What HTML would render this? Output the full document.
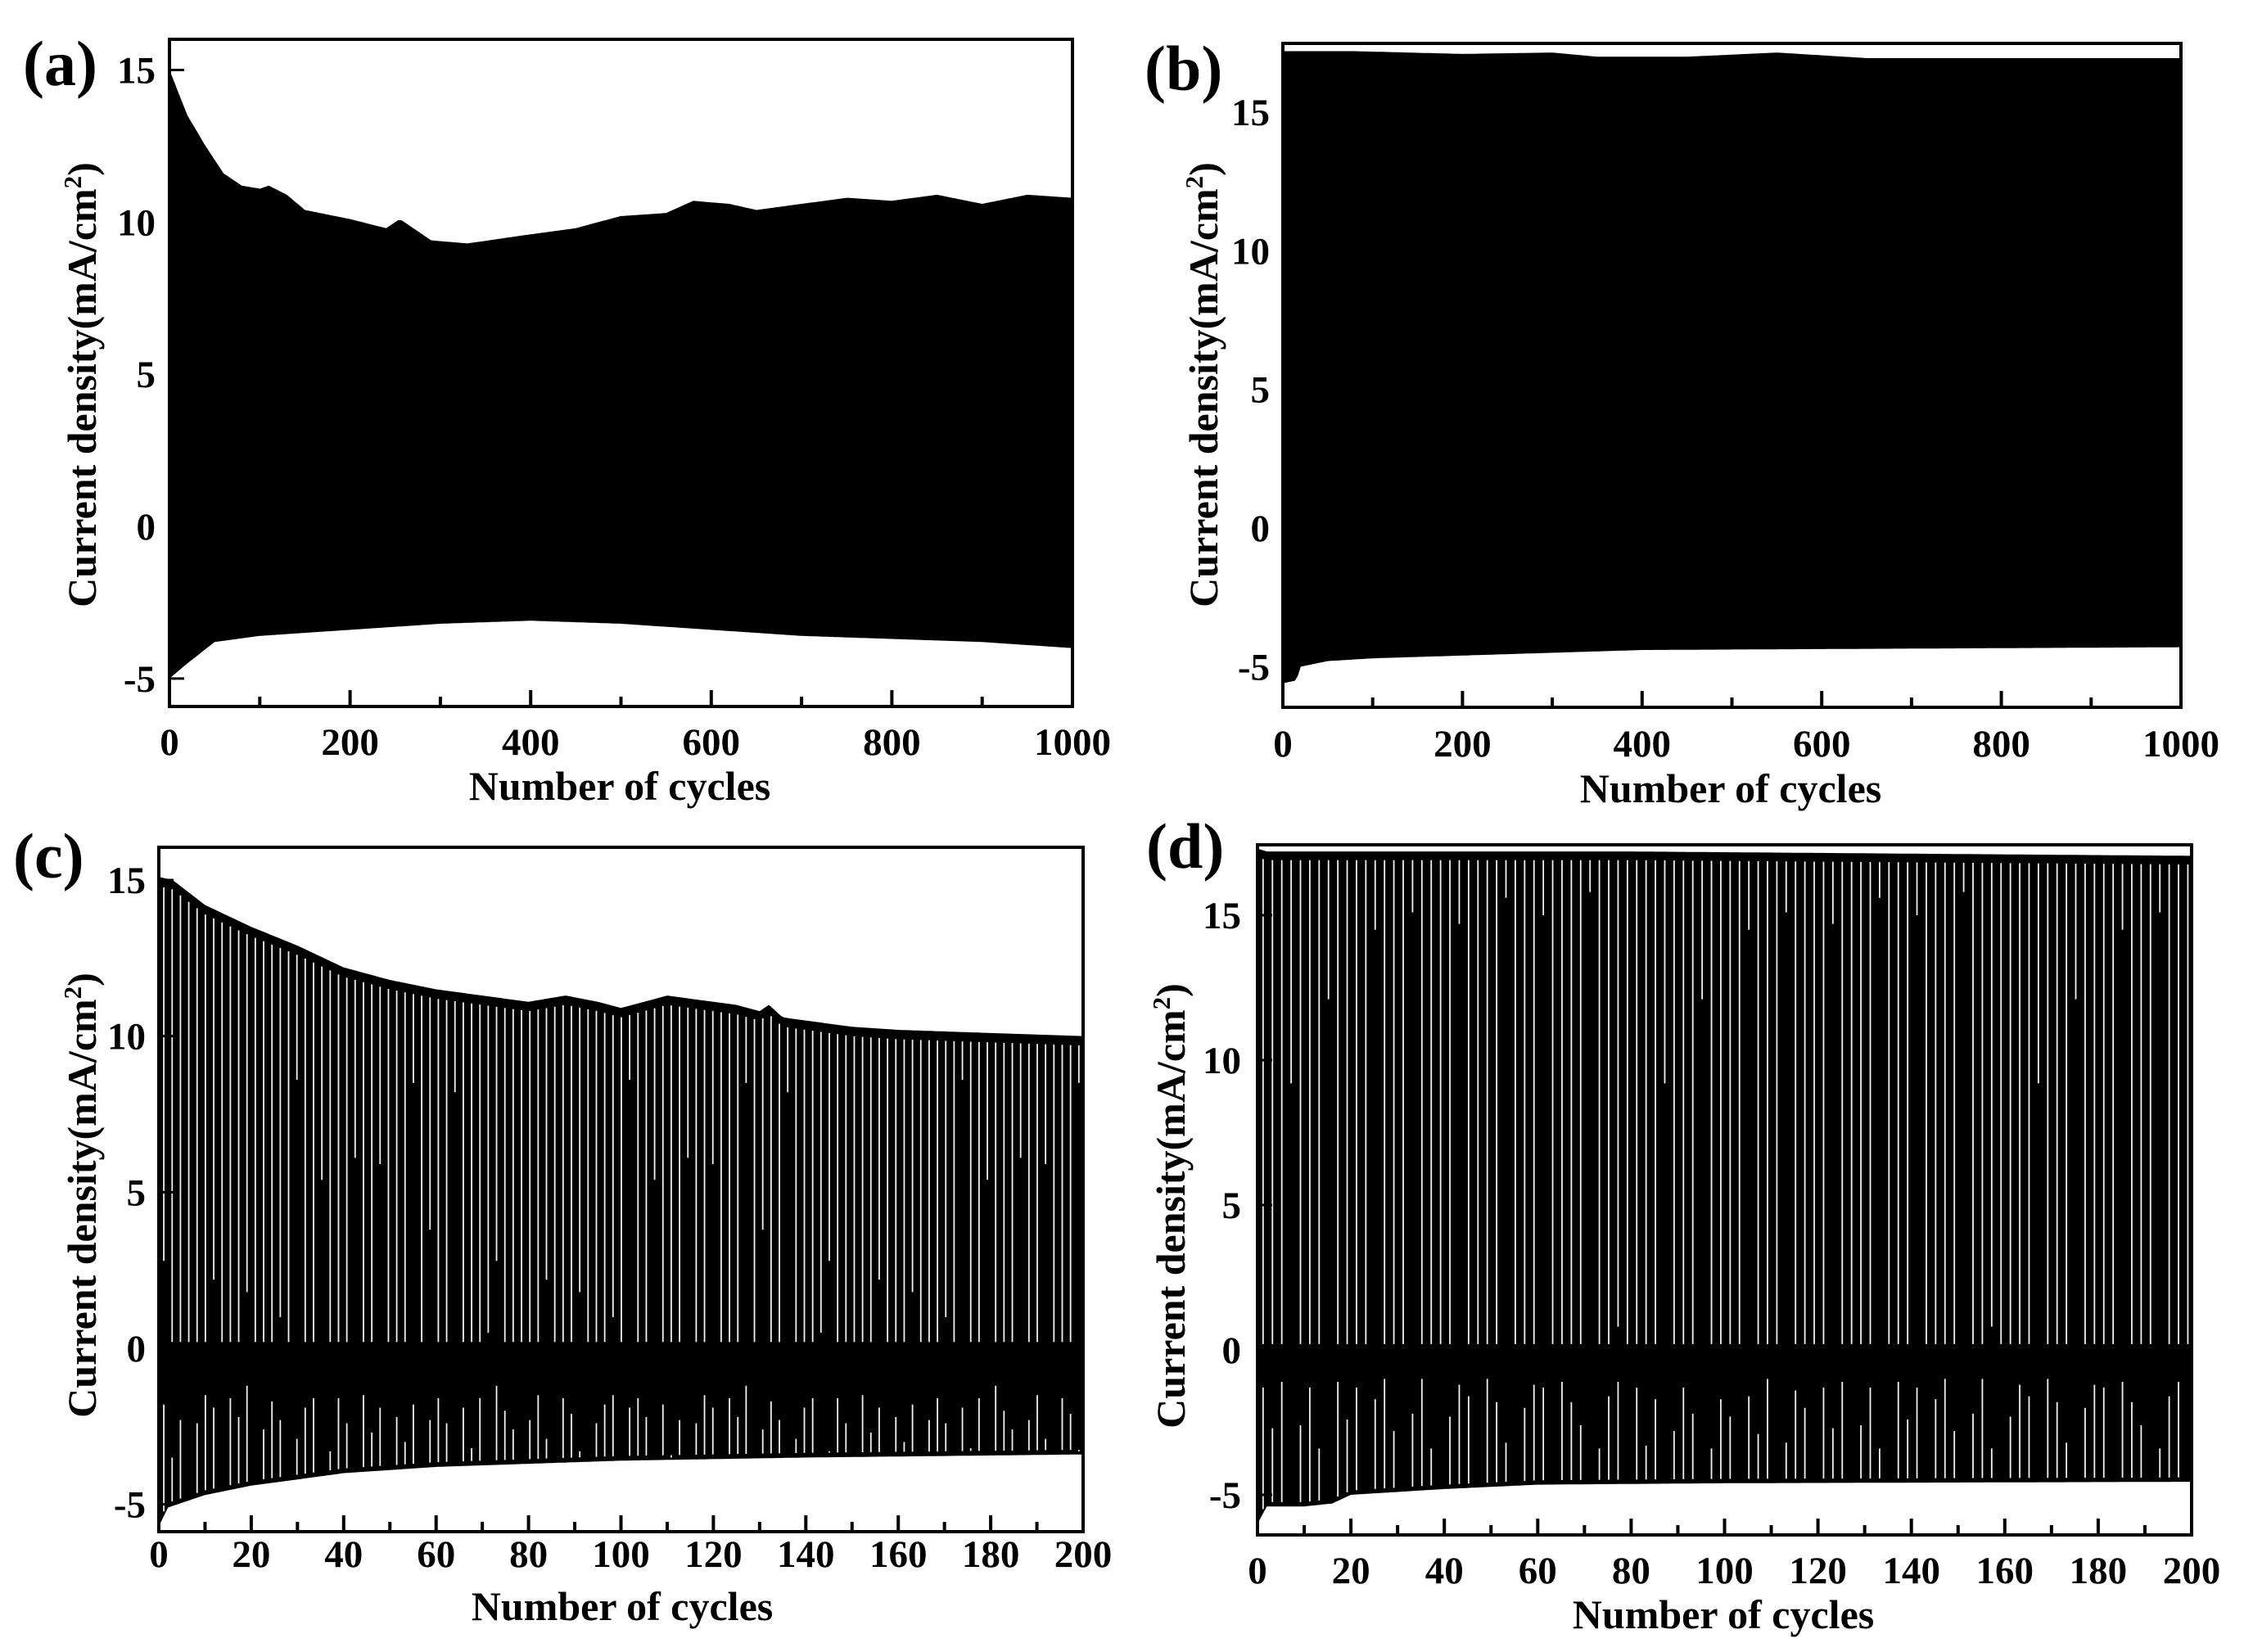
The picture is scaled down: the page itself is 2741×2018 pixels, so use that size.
<!DOCTYPE html>
<html><head><meta charset="utf-8">
<style>
html,body{margin:0;padding:0;background:#fff;}
svg{display:block;}
text{font-family:"Liberation Serif",serif;font-weight:bold;fill:#000;}
</style></head>
<body>
<svg id="fig" width="2741" height="2018" viewBox="0 0 2741 2018" xmlns="http://www.w3.org/2000/svg"></svg>
<script>
// ---- Panel (a) data ----
const cyclesA = [0,20,40,60,80,100,110,130,150,200,240,255,270,290,330,400,450,500,550,580,620,650,700,750,800,850,900,950,1000];
const topA    = [15,13.5,12.5,11.6,11.2,11.1,11.2,10.9,10.4,10.1,9.8,10.1,9.8,9.4,9.3,9.6,9.8,10.2,10.3,10.7,10.6,10.4,10.6,10.8,10.7,10.9,10.6,10.9,10.8];
const botCyclesA = [0,20,50,100,200,300,400,500,600,700,800,900,1000];
const botA    = [-5,-4.5,-3.8,-3.6,-3.4,-3.2,-3.1,-3.2,-3.4,-3.6,-3.7,-3.8,-4.0];
// ---- Panel (b) data ----
const cyclesB = [0,80,200,300,350,450,550,650,800,1000];
const topB    = [17.2,17.2,17.1,17.15,17.0,17.0,17.15,16.95,16.95,16.95];
const botCyclesB = [0,15,20,50,100,200,400,700,1000];
const botB    = [-5.6,-5.5,-5.0,-4.8,-4.7,-4.6,-4.4,-4.35,-4.3];
// ---- Panel (c) data ----
const cyclesC = [0,3,10,20,30,40,50,60,70,80,88,95,100,110,120,125,130,132,135,150,160,180,200];
const topC    = [15.1,15.0,14.2,13.5,12.9,12.2,11.8,11.5,11.3,11.1,11.3,11.1,10.9,11.3,11.1,11.0,10.8,11.0,10.6,10.3,10.2,10.1,10.0];
const botCyclesC = [0,2,10,20,40,60,80,100,140,200];
const botC    = [-5.7,-5.1,-4.7,-4.4,-4.0,-3.8,-3.7,-3.6,-3.5,-3.4];
const upperEndC = [2.8,0.2,0.2,0.2,0.2,0.2,2.2,0.2,0.2,0.2,1.8,0.2,0.2,0.2,1.0,0.2,8.6,0.2,0.2,5.4,0.2,0.2,0.2,6.1,0.2,0.2,5.9,0.2,0.2,0.2,8.5,0.2,3.8,0.2,0.2,8.2,0.2,0.2,0.2,0.5];
const lowerTopC = [-1.8,-3.5,-2.3,-1.6,-2.4,-1.5,-1.9,-3.2,-1.6,-2.2,-1.2,-2.0,-2.6,-1.7,-2.3,-1.5,-2.9,-1.9,-1.6,-2.1,-3.3,-1.6,-2.4,-1.8,-1.5,-2.7,-1.9,-1.6,-2.2,-3.0];
// ---- Panel (d) data ----
const cyclesD = [0,2,40,80,120,160,200];
const topD    = [17.3,17.2,17.2,17.2,17.15,17.1,17.05];
const botCyclesD = [0,1,2,10,16,20,40,60,100,200];
const botD    = [-6.0,-5.7,-5.4,-5.4,-5.3,-5.0,-4.8,-4.65,-4.6,-4.55];
const upperEndD = [0.2,0.2,0.2,9.2,0.2,0.2,0.2,12.1,0.2,0.2,0.2,0.2,14.5,0.2,0.2,0.2,15.1,0.2,0.2,0.2,0.2,14.7,0.2,0.2,0.2,0.2,15.6,0.2,0.2,0.2,15.0,0.2,0.2,0.2,0.2,15.8,0.2,0.2,0.8,0.2];
const lowerTopD = [-1.3,-2.7,-1.1,-1.8,-2.6,-1.3,-3.4,-1.6,-1.1,-2.4,-1.3,-3.3,-1.7,-1.0,-2.8,-1.3,-2.2,-1.0,-3.4,-1.7,-2.3,-1.2,-1.6,-2.9,-1.0,-1.8,-3.2,-1.4,-2.0,-1.2];
// ---- Ticks ----
const xTicksLong = [0,200,400,600,800,1000];
const xTicksShort = [0,20,40,60,80,100,120,140,160,180,200];
const yTicks = [-5,0,5,10,15];

const svg = document.getElementById('fig');
const NS = 'http://www.w3.org/2000/svg';
function mk(tag, attrs, parent){const e=document.createElementNS(NS,tag);for(const k in attrs)e.setAttribute(k,attrs[k]);(parent||svg).appendChild(e);return e;}
function interp(xs,ys,x){if(x<=xs[0])return ys[0];for(let i=1;i<xs.length;i++){if(x<=xs[i]){const t=(x-xs[i-1])/(xs[i]-xs[i-1]);return ys[i-1]+t*(ys[i]-ys[i-1]);}}return ys[ys.length-1];}

const panels = [
 {id:'a',label:'(a)',L:207,R:1310,T:48,B:863,xmax:1000,y15:85.5,y0:643,xt:xTicksLong,minor:100,cx:cyclesA,top:topA,bx:botCyclesA,bot:botA,
  lblX:28,lblY:104,tickRight:190,xLabY:922,titleX:757,titleY:977,yTitleX:100,yTitleY:470},
 {id:'b',label:'(b)',L:1567,R:2664,T:53,B:864,xmax:1000,y15:137,y0:645,xt:xTicksLong,minor:100,cx:cyclesB,top:topB,bx:botCyclesB,bot:botB,
  lblX:1398,lblY:110,tickRight:1551,xLabY:924,titleX:2114,titleY:980,yTitleX:1470,yTitleY:470},
 {id:'c',label:'(c)',L:194,R:1323,T:1035,B:1871,xmax:200,y15:1075,y0:1647,xt:xTicksShort,minor:10,cx:cyclesC,top:topC,bx:botCyclesC,bot:botC,
  up:upperEndC,low:lowerTopC,step:1.8,lblX:16,lblY:1072,tickRight:178,xLabY:1914,titleX:760,titleY:1979,yTitleX:100,yTitleY:1460},
 {id:'d',label:'(d)',L:1536,R:2677,T:1032,B:1875,xmax:200,y15:1118,y0:1649,xt:xTicksShort,minor:10,cx:cyclesD,top:topD,bx:botCyclesD,bot:botD,
  up:upperEndD,low:lowerTopD,step:2,lblX:1400,lblY:1060,tickRight:1516,xLabY:1934,titleX:2105,titleY:1989,yTitleX:1430,yTitleY:1473}
];

panels.forEach(p=>{
  const g = mk('g',{});
  
  
  const per = (p.y0-p.y15)/15;
  const X = v => p.L + (p.R-p.L)*v/p.xmax;
  const Y = v => p.y0 - v*per;
  const N = 300;
  let d='';
  for(let i=0;i<=N;i++){const c=p.xmax*i/N;d+=(i?'L':'M')+X(c).toFixed(1)+' '+Y(interp(p.cx,p.top,c)).toFixed(1);}
  for(let i=N;i>=0;i--){const c=p.xmax*i/N;d+='L'+X(c).toFixed(1)+' '+Y(interp(p.bx,p.bot,c)).toFixed(1);}
  d+='Z';
  const area = mk('path',{d:d,fill:'#000'},g);
  
  
  if(p.up){
    let k=0;
    for(let c=p.step*0.6;c<p.xmax-0.5;c+=p.step,k++){
      const x=X(c);
      const tv=interp(p.cx,p.top,c)-0.3;
      const ue=p.up[k%p.up.length];
      const ln=mk('line',{x1:x,x2:x,y1:Y(tv),y2:Y(ue),stroke:'#f0f0f0','stroke-width':1.8},g);
      
      
      if(k%4!==3){
        const bv=interp(p.bx,p.bot,c)+0.15;
        const lt=p.low[k%p.low.length];
        const l2=mk('line',{x1:x,x2:x,y1:Y(bv),y2:Y(lt),stroke:'#f0f0f0','stroke-width':1.8},g);
        
        
      }
    }
  }
  const fr=mk('rect',{x:p.L,y:p.T,width:p.R-p.L,height:p.B-p.T,fill:'none',stroke:'#000','stroke-width':4},g);
  
  
  for(let v=0;v<=p.xmax;v+=p.minor){
    const major = p.xt.includes(v);
    const t=mk('line',{x1:X(v),x2:X(v),y1:p.B,y2:p.B-(major?20:12),stroke:'#000','stroke-width':4},g);
    
    
  }
  p.xt.forEach(v=>{
    const t=mk('text',{x:X(v),y:p.xLabY,'font-size':47,'text-anchor':'middle'},g);
    t.textContent=v;
    
    
  });
  yTicks.forEach(v=>{
    const tk=mk('line',{x1:p.L,x2:p.L+18,y1:Y(v),y2:Y(v),stroke:'#000','stroke-width':3},g);
    
    
    const t=mk('text',{x:p.tickRight,y:Y(v)+16,'font-size':47,'text-anchor':'end'},g);
    t.textContent=v;
    
    
  });
  const xt=mk('text',{x:p.titleX,y:p.titleY,'font-size':50,'text-anchor':'middle'},g);
  xt.textContent='Number of cycles';
  
  
  const yt=mk('text',{x:0,y:0,'font-size':50,'text-anchor':'middle',transform:`translate(${p.yTitleX+17},${p.yTitleY}) rotate(-90)`},g);
  yt.innerHTML='Current density(mA/cm<tspan dy="-18" font-size="31">2</tspan><tspan dy="18">)</tspan>';
  
  
  const pl=mk('text',{x:p.lblX,y:p.lblY,'font-size':78},g);
  pl.textContent=p.label;
  
  
});
</script>
</body></html>
